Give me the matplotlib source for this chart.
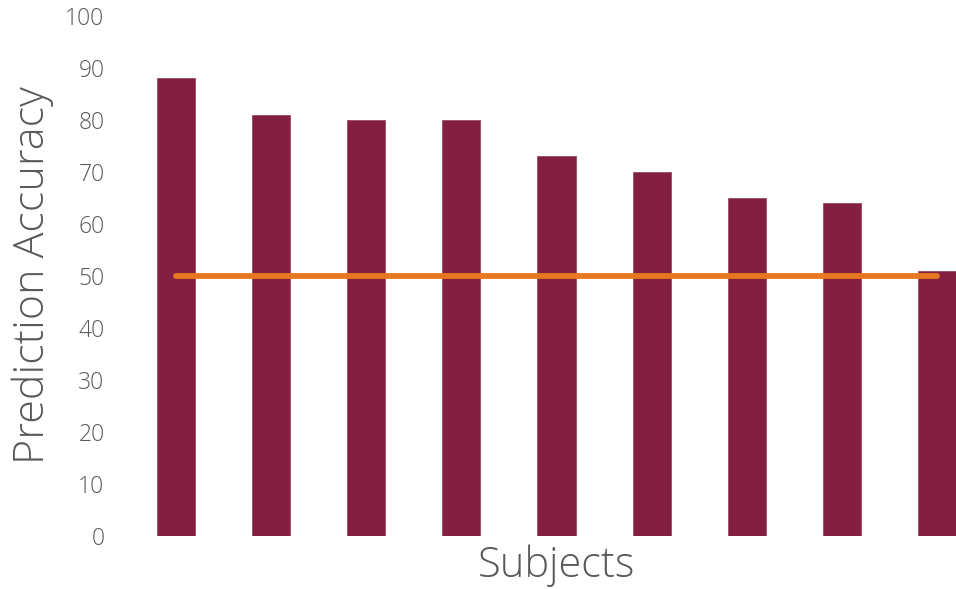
import matplotlib.pyplot as plt
import numpy as np

subjects = ["S1", "S2", "S3", "S4", "S5", "S6", "S7", "S8", "S9"]
accuracy = [88, 81, 80, 80, 73, 70, 65, 64, 51]
chance = [50] * len(subjects)
yticks = list(range(0, 101, 10))

bar_color = "#831F40"
line_color = "#E87722"
text_color = "#595959"

plt.rcParams["font.family"] = ["Open Sans", "DejaVu Sans"]

fig = plt.figure(figsize=(9.56, 5.89), dpi=100)
ax = fig.add_axes([128 / 956, 1 - 536 / 589, 857 / 956, 520 / 589])

x = np.arange(len(subjects))
ax.bar(x, accuracy, width=0.4, color=bar_color, edgecolor="#9a4a63", linewidth=0.6, zorder=2)
ax.plot(x, chance, color=line_color, linewidth=4.2, solid_capstyle="round", zorder=3)

ax.set_xlim(-0.5, len(subjects) - 0.5)
ax.set_ylim(0, 100)
ax.set_yticks(yticks)
ax.set_yticklabels([str(v) for v in yticks], fontsize=16.5, color=text_color, fontweight=300)
ax.set_xticks([])
ax.tick_params(axis="y", length=0, pad=17)
for s in ax.spines.values():
    s.set_visible(False)

fig.text(33 / 956, 1 - 275 / 589, "Prediction Accuracy", fontsize=31, color=text_color,
         fontweight=300, rotation=90, ha="center", va="center")
fig.text(556 / 956, 1 - 566 / 589, "Subjects", fontsize=30, color=text_color,
         fontweight=300, ha="center", va="center")

fig.savefig("out.png", dpi=100, facecolor="white")
